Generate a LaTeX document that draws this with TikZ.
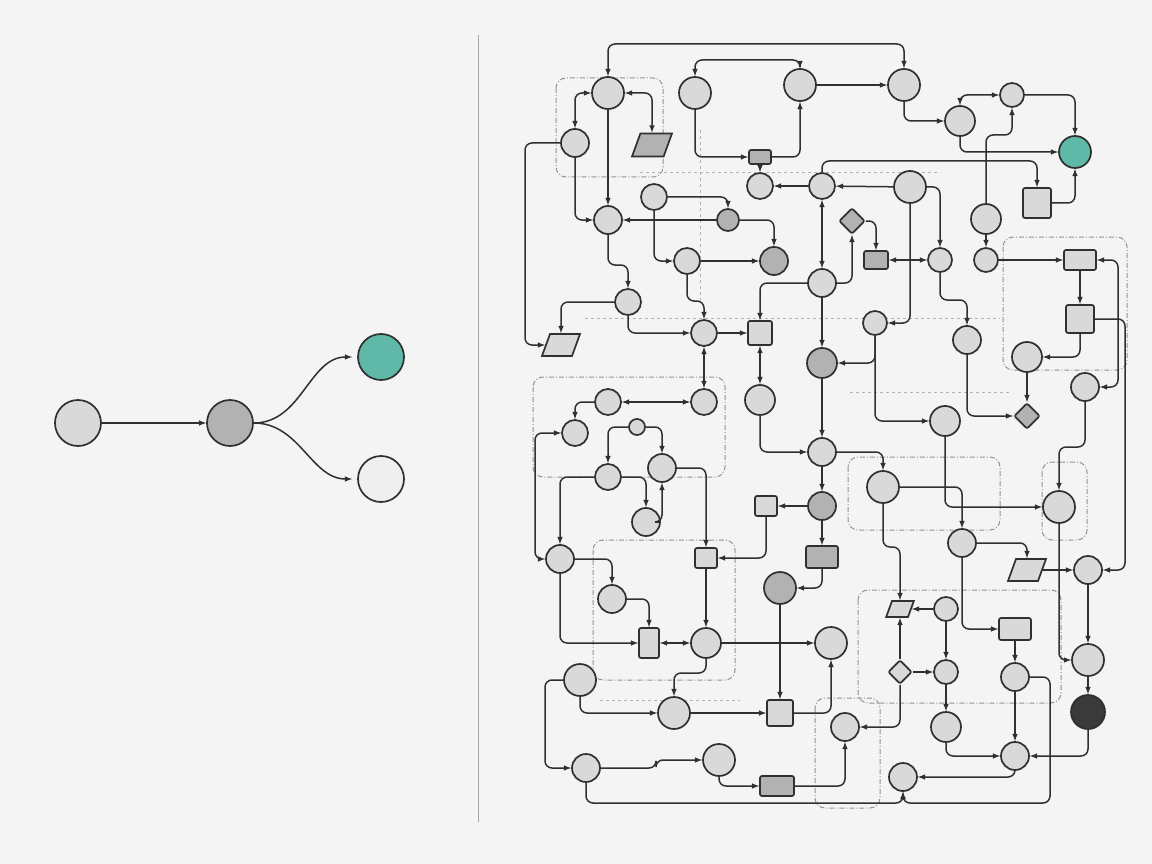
\documentclass[tikz,border=0pt]{standalone}
\usepackage{tikz}
\usetikzlibrary{shapes}
\usetikzlibrary{arrows}

\definecolor{bgcol}{HTML}{F4F4F4}
\definecolor{edgecol}{HTML}{303030}
\definecolor{lightfill}{HTML}{D9D9D9}
\definecolor{midfill}{HTML}{B2B2B2}
\definecolor{palefill}{HTML}{EFEFEF}
\definecolor{tealfill}{HTML}{5FB8A8}
\definecolor{darkfill}{HTML}{3A3A3A}

\tikzset{
  blob/.style={circle,draw=edgecol,line width=1.7pt,fill=lightfill,inner sep=0pt},
  box/.style={rectangle,rounded corners=2pt,draw=edgecol,line width=1.7pt,fill=lightfill,inner sep=0pt},
  rhomb/.style={diamond,rounded corners=2pt,draw=edgecol,line width=1.7pt,fill=midfill,inner sep=0pt},
  slant/.style={trapezium,trapezium left angle=70,trapezium right angle=110,draw=edgecol,line width=1.7pt,fill=lightfill,inner sep=1pt},
  conn/.style={-latex,draw=edgecol,line width=1.5pt,rounded corners=7pt},
  bi/.style={latex-latex,draw=edgecol,line width=1.5pt,rounded corners=7pt},
  group/.style={draw=gray!85,dash pattern=on 5pt off 2pt on 1pt off 2pt,line width=1pt,rounded corners=10pt},
  lane/.style={draw=gray!60,dashed,line width=0.8pt},
}

\begin{document}
\begin{tikzpicture}[x=1pt,y=-1pt]
    \fill[bgcol] (0,0) rectangle (1152,864);
    \useasboundingbox (0,0) rectangle (1152,864);

    % left: the small flow
    \node[blob,minimum size=46pt] (start) at (78,423) {};
    \node[blob,minimum size=46pt,fill=midfill] (mid) at (230,423) {};
    \node[blob,minimum size=46pt,fill=tealfill] (good) at (381,357) {};
    \node[blob,minimum size=46pt,fill=palefill] (idle) at (381,479) {};
    \draw[conn] (start) -- (mid);
    \draw[conn,shorten >=5pt] (mid) to[out=0,in=180] (good);
    \draw[conn,shorten >=5pt] (mid) to[out=0,in=180] (idle);

    \draw[gray!70,line width=0.8pt] (478,35) -- (478,822);

    % right: the tangle
    \draw[group] (556,78) rectangle (663,177);
    \draw[group] (533,377) rectangle (725,477);
    \draw[group] (593,540) rectangle (735,680);
    \draw[group] (848,457) rectangle (1000,530);
    \draw[group] (858,590) rectangle (1061,703);
    \draw[group] (1003,237) rectangle (1127,370);
    \draw[group] (1042,462) rectangle (1087,540);
    \draw[group] (815,698) rectangle (880,808);
    \draw[lane] (640,172) -- (940,172);
    \draw[lane] (585,318) -- (1000,318);
    \draw[lane] (850,392) -- (1010,392);
    \draw[lane] (600,700) -- (740,700);
    \draw[lane] (700,130) -- (700,300);

    \foreach \nm/\x/\y/\d in {c1/608/93/32, c2/575/143/28, c3/608/220/28, c4/654/197/26,
        c5/695/93/32, c6/800/85/32, c7/760/186/26, c8/822/186/26, c9/687/261/26,
        c10/822/283/28, c11/904/85/32, c12/960/121/30, c13/1012/95/24, c14/910/187/32,
        c15/986/219/30, c16/628/302/26, c17/704/333/26, c18/608/402/26, c19/704/402/26,
        c20/760/400/30, c21/575/433/26, c22/662/468/28, c23/608/477/26, c24/822/452/28,
        c26/646/522/28, c27/875/323/24, c28/967/340/28, c29/1027/357/30, c30/1085/387/28,
        c31/945/421/30, c32/883/487/32, c33/1059/507/32, c34/962/543/28, c35/560/559/28,
        c36/612/599/28, c37/706/643/30, c38/831/643/32, c39/580/680/32, c40/674/713/32,
        c41/586/768/28, c42/1088/570/28, c43/946/609/24, c44/1088/660/32, c45/1015/677/28,
        c46/946/672/24, c47/845/727/28, c48/946/727/30, c49/1015/756/28, c50/903/777/28,
        c51/719/760/32, c53/940/260/24, c54/986/260/24, sc/637/427/16}
      \node[blob,minimum size=\d pt] (\nm) at (\x,\y) {};
    \foreach \nm/\x/\y/\d in {d1/728/220/22, d2/774/261/28, d3/822/363/30, d4/780/588/32, c25/822/506/28}
      \node[blob,minimum size=\d pt,fill=midfill] (\nm) at (\x,\y) {};
    \node[blob,minimum size=32pt,fill=tealfill] (t1) at (1075,152) {};
    \node[blob,minimum size=34pt,fill=darkfill] (k1) at (1088,712) {};

    \foreach \nm/\x/\y/\w/\h/\f in {r1/760/157/22/14/midfill, r2/1037/203/28/30/lightfill,
        r3/876/260/24/18/midfill, r4/1080/260/32/20/lightfill, r5/760/333/24/24/lightfill,
        r6/1080/319/28/28/lightfill, r7/822/557/32/22/midfill, r8/706/558/22/20/lightfill,
        r9/766/506/22/20/lightfill, r10/649/643/20/30/lightfill, r11/780/713/26/26/lightfill,
        r12/777/786/34/20/midfill, r13/1015/629/32/22/lightfill}
      \node[box,minimum width=\w pt,minimum height=\h pt,fill=\f] (\nm) at (\x,\y) {};
    \node[slant,minimum width=40pt,minimum height=22pt,fill=midfill] (p1) at (652,145) {};
    \node[slant,minimum width=38pt,minimum height=22pt,shape border rotate=180] (p2) at (561,345) {};
    \node[slant,minimum width=36pt,minimum height=22pt] (p3) at (1027,570) {};
    \node[slant,minimum width=22pt,minimum height=16pt] (p4) at (900,609) {};
    \node[rhomb,minimum size=26pt] (m1) at (852,221) {};
    \node[rhomb,minimum size=26pt] (m2) at (1027,416) {};
    \node[rhomb,minimum size=24pt,fill=lightfill] (m3) at (900,672) {};

    % straight links
    \foreach \a/\b in {c1/c3, c6/c11, d1/c3, r1/c7, c8/c7, c14/c8, c15/c54, c54/r4,
        r4/r6, c29/m2, c10/d3, d3/c24, c24/c25, c25/r7, c25/r9, c17/r5, r8/c37,
        c37/c38, c40/r11, d4/r11, c43/c46, c46/c48, c43/p4, m3/p4, m3/c46,
        r13/c45, c45/c49, p3/c42, c42/c44, c44/k1, c9/d2}
      \draw[conn] (\a) -- (\b);
    \foreach \a/\b in {c8/c10, r3/c53, c17/c19, c18/c19, r5/c20, r10/c37}
      \draw[bi] (\a) -- (\b);

    % horizontal, then vertical
    \foreach \a/\b in {c4/d1, d1/d2, r1/c6, r2/t1, c13/t1, c14/c53, m1/r3, c10/m1,
        c10/r5, c16/p2, c18/c21, sc/c22, sc/c23, c23/c35, c23/c26, c26/c22, c22/r8,
        c35/c36, c36/r10, c24/c32, c32/c34, c34/p3, r12/c47, r11/c38}
      \draw[conn] (\a) -| (\b);
    \foreach \a/\b in {c1/c2, c1/p1}
      \draw[bi] (\a) -| (\b);

    % vertical, then horizontal
    \foreach \a/\b in {c2/c3, c4/c9, c5/r1, c11/c12, c12/t1, c16/c17, c20/c24,
        c27/d3, c27/c31, c28/m2, r6/c29, c31/c33, c33/c44, c34/r13, r7/d4, r9/r8,
        c35/r10, c39/c40, c51/r12, m3/c47, c48/c49, c49/c50, k1/c49, c14/c27}
      \draw[conn] (\a) |- (\b);
    \draw[bi] (c12) |- (c13);

    % long ways round
    \draw[bi] (c1) -- ++(0,-49) -| (c11);
    \draw[bi] (c5) -- ++(0,-33) -| (c6);
    \draw[conn] (c15) -- ++(0,-84) -| (c13);
    \draw[conn] (c8) -- ++(0,-25) -| (r2);
    \draw[conn] (c3) -- ++(0,45) -| (c16);
    \draw[conn] (c9) -- ++(0,40) -| (c17);
    \draw[conn] (c53) -- ++(0,40) -| (c28);
    \draw[bi] (r4) -- ++(38,0) |- (c30);
    \draw[conn] (r6) -- ++(45,0) |- (c42);
    \draw[conn] (c30) -- ++(0,60) -| (c33);
    \draw[conn] (c32) -- ++(0,60) -| (p4);
    \draw[conn] (c2) -- ++(-50,0) |- (p2);
    \draw[bi] (c21) -- ++(-40,0) |- (c35);
    \draw[conn] (c39) -- ++(-35,0) |- (c41);
    \draw[conn] (c37) -- ++(0,30) -| (c40);
    \draw[conn] (c41) -- ++(70,0) |- (c51);
    \draw[conn] (c41) -- ++(0,35) -| (c50);
    \draw[conn] (c45) -- ++(35,0) -- ++(0,126) -| (c50);
  \end{tikzpicture}
\end{document}
